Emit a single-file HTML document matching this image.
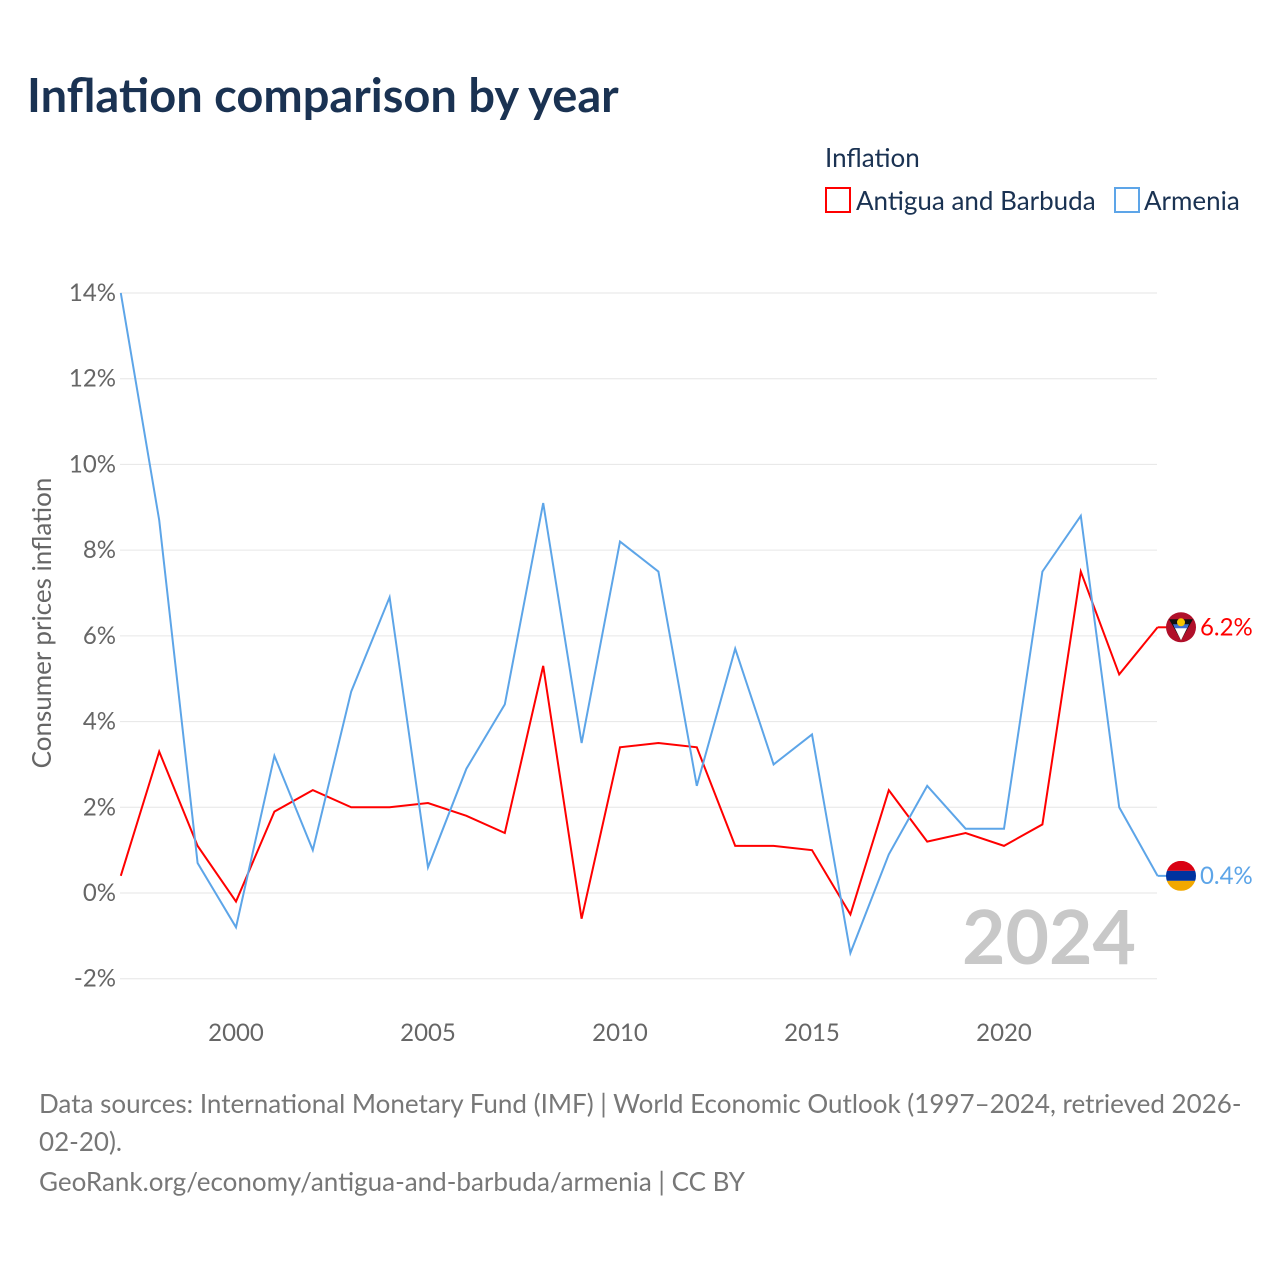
<!DOCTYPE html>
<html><head><meta charset="utf-8"><style>
body{margin:0;background:#fff;font-family:"Liberation Sans",sans-serif;}
#wrap{position:relative;width:1280px;height:1280px;overflow:hidden;}
</style></head><body>
<div id="wrap">
<svg id="chart" width="1280" height="1280" font-family="Lato, 'Liberation Sans', sans-serif">
<text x="27" y="112" font-size="47" font-weight="bold" fill="#1a3252">Inflation comparison by year</text>
<text x="825" y="167" font-size="26" fill="#1a3252">Inflation</text>
<g><rect x="826" y="188" width="24" height="24" fill="none" stroke="#ff0000" stroke-width="2"/><text x="856" y="210" font-size="26" fill="#1a3252">Antigua and Barbuda</text></g>
<g><rect x="1115" y="188" width="24" height="24" fill="none" stroke="#5da5e8" stroke-width="2"/><text x="1144" y="210" font-size="26" fill="#1a3252">Armenia</text></g>
<g id="grid"></g><g id="lines"></g>
<text x="1136" y="964" font-size="75" font-weight="bold" fill="#c8c8c8" text-anchor="end">2024</text>
<text transform="translate(51,623) rotate(-90)" font-size="26" fill="#666" text-anchor="middle">Consumer prices inflation</text>
<g font-size="26" fill="#777">
<text x="39" y="1113">Data sources: International Monetary Fund (IMF) | World Economic Outlook (1997–2024, retrieved 2026-</text>
<text x="39" y="1151">02-20).</text>
<text x="39" y="1191">GeoRank.org/economy/antigua-and-barbuda/armenia | CC BY</text>
</g>
</svg>
<script>
const years=[1997,1998,1999,2000,2001,2002,2003,2004,2005,2006,2007,2008,2009,2010,2011,2012,2013,2014,2015,2016,2017,2018,2019,2020,2021,2022,2023,2024];
const antigua=[0.4,3.3,1.1,-0.2,1.9,2.4,2.0,2.0,2.1,1.8,1.4,5.3,-0.6,3.4,3.5,3.4,1.1,1.1,1.0,-0.5,2.4,1.2,1.4,1.1,1.6,7.5,5.1,6.2];
const armenia=[14.0,8.7,0.7,-0.8,3.2,1.0,4.7,6.9,0.6,2.9,4.4,9.1,3.5,8.2,7.5,2.5,5.7,3.0,3.7,-1.4,0.9,2.5,1.5,1.5,7.5,8.8,2.0,0.4];
const yTicks=[-2,0,2,4,6,8,10,12,14];
const xTicks=[2000,2005,2010,2015,2020];
const NS="http://www.w3.org/2000/svg";
const X=y=>120.8+(y-1997)*38.4;
const Y=v=>893-v*42.857;
const grid=document.getElementById('grid'),lines=document.getElementById('lines');
function mk(t,a,p){const e=document.createElementNS(NS,t);for(const k in a)e.setAttribute(k,a[k]);p.appendChild(e);return e;}
yTicks.forEach(v=>{
 const l=mk('line',{x1:120,x2:1157,y1:Y(v),y2:Y(v),stroke:'#e6e6e6','stroke-width':1},grid);
 
 
 const t=mk('text',{x:116,y:Y(v)+8,'font-size':24,fill:'#666','text-anchor':'end'},grid);t.textContent=v+'%';
 
 
});
xTicks.forEach(v=>{
 const t=mk('text',{x:X(v),y:1041,'font-size':24,fill:'#666','text-anchor':'middle'},grid);t.textContent=v;
 
 
});
function series(vals,color,name,flag){
 const pts=vals.map((v,i)=>X(years[i])+','+Y(v)).join(' ');
 const p=mk('polyline',{points:pts,fill:'none',stroke:color,'stroke-width':2},lines);
 
 
 const last=vals[vals.length-1],ly=Y(last);
 mk('line',{x1:X(2024),x2:1170,y1:ly,y2:ly,stroke:color,'stroke-width':2},lines);
 const g=mk('g',{},lines);
 
 
 flag(g,1181,ly);
 const t=mk('text',{x:1200,y:ly+8,'font-size':24,fill:color},lines);t.textContent=last.toFixed(1)+'%';
 
 
}
series(antigua,'#ff0000','antigua',(g,cx,cy)=>{
 mk('circle',{cx:cx,cy:cy,r:15,fill:'#b0102a'},g);
 mk('path',{d:`M${cx-12} ${cy-8} L${cx+12} ${cy-8} L${cx} ${cy+13} Z`,fill:'#111'},g);
 mk('path',{d:`M${cx-7} ${cy-1} L${cx+7} ${cy-1} L${cx} ${cy+13} Z`,fill:'#fff'},g);
 mk('path',{d:`M${cx-8} ${cy-3} L${cx+8} ${cy-3} L${cx+6} ${cy+1} L${cx-6} ${cy+1} Z`,fill:'#3b6fd6'},g);
 mk('circle',{cx:cx,cy:cy-5,r:4,fill:'#f7c600'},g);
});
series(armenia,'#5da5e8','armenia',(g,cx,cy)=>{
 mk('clipPath',{id:'cp'},g);
 mk('circle',{cx:cx,cy:cy,r:15},document.getElementById('cp'));
 mk('rect',{x:cx-15,y:cy-15,width:30,height:10,fill:'#d90012','clip-path':'url(#cp)'},g);
 mk('rect',{x:cx-15,y:cy-5,width:30,height:10,fill:'#0033a0','clip-path':'url(#cp)'},g);
 mk('rect',{x:cx-15,y:cy+5,width:30,height:10,fill:'#f2a800','clip-path':'url(#cp)'},g);
});
</script>
</div></body></html>
